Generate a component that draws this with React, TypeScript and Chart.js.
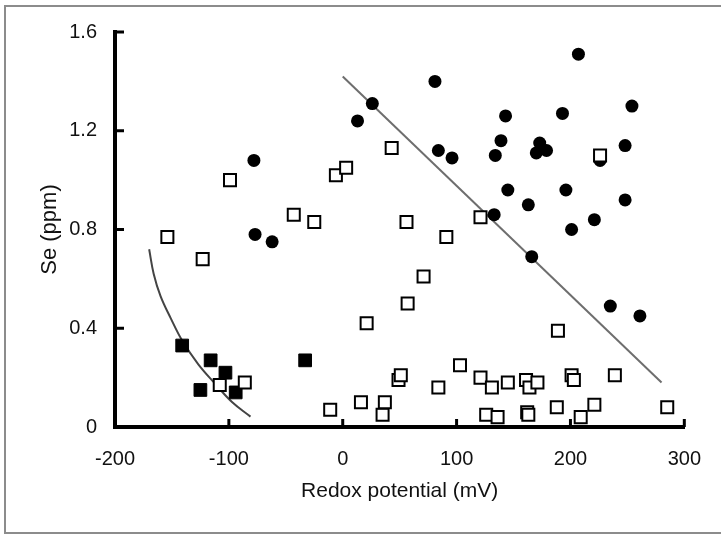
import React, { useEffect, useRef } from 'react';
import { Chart, registerables } from 'chart.js';

Chart.register(...registerables);

// Filled circles
const circleX = [-78, -77, -62, 13, 26, 81, 84, 96, 133, 134, 139, 143, 145, 163, 166, 170, 173, 179, 193, 196, 201, 207, 221, 226, 235, 248, 248, 254, 261];
const circleY = [1.08, 0.78, 0.75, 1.24, 1.31, 1.40, 1.12, 1.09, 0.86, 1.10, 1.16, 1.26, 0.96, 0.90, 0.69, 1.11, 1.15, 1.12, 1.27, 0.96, 0.80, 1.51, 0.84, 1.08, 0.49, 1.14, 0.92, 1.30, 0.45];

// Open squares
const openX = [-154, -123, -108, -86, -99, -43, -25, -11, -6, 3, 16, 21, 35, 37, 43, 49, 51, 56, 57, 71, 84, 91, 103, 121, 121, 126, 131, 136, 145, 161, 162, 163, 164, 171, 188, 189, 201, 203, 209, 221, 226, 239, 285];
const openY = [0.77, 0.68, 0.17, 0.18, 1.00, 0.86, 0.83, 0.07, 1.02, 1.05, 0.10, 0.42, 0.05, 0.10, 1.13, 0.19, 0.21, 0.83, 0.50, 0.61, 0.16, 0.77, 0.25, 0.20, 0.85, 0.05, 0.16, 0.04, 0.18, 0.19, 0.06, 0.05, 0.16, 0.18, 0.08, 0.39, 0.21, 0.19, 0.04, 0.09, 1.10, 0.21, 0.08];

// Filled squares
const filledSqX = [-141, -116, -103, -125, -94, -33];
const filledSqY = [0.33, 0.27, 0.22, 0.15, 0.14, 0.27];

// Straight regression line
const lineX = [0, 280];
const lineY = [1.42, 0.18];

// Curved fit
const curveX = [-170, -166, -160, -151, -141, -127, -112, -97, -81];
const curveY = [0.72, 0.62, 0.53, 0.44, 0.35, 0.255, 0.175, 0.1, 0.042];

const xTicks = [-200, -100, 0, 100, 200, 300];
const xTickLabels = ['-200', '-100', '0', '100', '200', '300'];
const yTicks = [0, 0.4, 0.8, 1.2, 1.6];
const yTickLabels = ['0', '0.4', '0.8', '1.2', '1.6'];

const xTitle = 'Redox potential (mV)';
const yTitle = 'Se (ppm)';

const pts = (xs: number[], ys: number[]) => xs.map((x, i) => ({ x, y: ys[i] }));

const FONT = '"Liberation Sans", Arial, sans-serif';

const framePlugin = {
  id: 'frame',
  beforeDraw(chart: any) {
    const ctx = chart.ctx;
    ctx.save();
    ctx.fillStyle = '#ffffff';
    ctx.fillRect(0, 0, chart.width, chart.height);
    ctx.strokeStyle = '#8c8c8c';
    ctx.lineWidth = 2;
    ctx.strokeRect(5, 6, 720, 527);
    ctx.restore();
  },
  beforeDatasetsDraw(chart: any) {
    const ctx = chart.ctx;
    const xs = chart.scales.x;
    const ys = chart.scales.y;
    const area = chart.chartArea;
    ctx.save();
    ctx.strokeStyle = '#000';
    ctx.lineWidth = 3;
    xTicks.forEach((v) => {
      const px = xs.getPixelForValue(v);
      ctx.beginPath();
      ctx.moveTo(px, area.bottom);
      ctx.lineTo(px, area.bottom - 8);
      ctx.stroke();
    });
    yTicks.forEach((v) => {
      const py = ys.getPixelForValue(v);
      ctx.beginPath();
      ctx.moveTo(area.left, py);
      ctx.lineTo(area.left + 9, py);
      ctx.stroke();
    });
    ctx.restore();
  },
};

export default function App() {
  const ref = useRef<HTMLCanvasElement | null>(null);
  useEffect(() => {
    document.body.style.margin = '0';
    const canvas = ref.current!;
    const chart = new Chart(canvas, {
      type: 'scatter',
      data: {
        datasets: [
          {
            label: 'open',
            data: pts(openX, openY),
            pointStyle: 'rect',
            pointRadius: 8.5,
            pointBorderWidth: 2,
            pointBorderColor: '#000',
            pointBackgroundColor: '#fff',
            order: 1,
          },
          {
            label: 'filledSq',
            data: pts(filledSqX, filledSqY),
            pointStyle: 'rect',
            pointRadius: 9,
            pointBorderWidth: 1,
            pointBorderColor: '#000',
            pointBackgroundColor: '#000',
            order: 2,
          },
          {
            label: 'circle',
            data: pts(circleX, circleY),
            pointStyle: 'circle',
            pointRadius: 6.5,
            pointBorderWidth: 0,
            pointBackgroundColor: '#000',
            order: 3,
          },
          {
            type: 'line',
            label: 'line',
            data: pts(lineX, lineY),
            showLine: true,
            borderColor: '#6e6e6e',
            borderWidth: 2,
            pointRadius: 0,
            order: 4,
          },
          {
            type: 'line',
            label: 'curve',
            data: pts(curveX, curveY),
            showLine: true,
            borderColor: '#444',
            borderWidth: 2,
            pointRadius: 0,
            tension: 0.4,
            order: 5,
          },
        ],
      } as any,
      options: {
        responsive: false,
        animation: false,
        devicePixelRatio: 1,
        layout: { padding: { left: 0, right: 28, top: 32, bottom: 0 } },
        plugins: { legend: { display: false }, tooltip: { enabled: false } },
        scales: {
          x: {
            type: 'linear',
            min: -200,
            max: 300,
            afterBuildTicks: (s: any) => { s.ticks = xTicks.map((v) => ({ value: v })); },
            afterFit: (s: any) => { s.height = 109; },
            grid: { display: false, drawTicks: false },
            border: { display: true, color: '#000', width: 4 },
            ticks: {
              padding: 20,
              color: '#111',
              font: { family: FONT, size: 20 },
              callback: (v: any) => xTickLabels[xTicks.indexOf(Number(v))] ?? '',
            },
            title: {
              display: true,
              text: xTitle,
              color: '#111',
              font: { family: FONT, size: 21 },
              padding: { top: 0, bottom: 32 },
            },
          },
          y: {
            type: 'linear',
            min: 0,
            max: 1.6,
            afterBuildTicks: (s: any) => { s.ticks = yTicks.map((v) => ({ value: v })); },
            afterFit: (s: any) => { s.width = 115; },
            grid: { display: false, drawTicks: false },
            border: { display: true, color: '#000', width: 4 },
            ticks: {
              padding: 18,
              color: '#111',
              font: { family: FONT, size: 20 },
              callback: (v: any) => {
                const i = yTicks.findIndex((t) => Math.abs(t - Number(v)) < 1e-9);
                return i >= 0 ? yTickLabels[i] : '';
              },
            },
            title: {
              display: true,
              text: yTitle,
              color: '#111',
              font: { family: FONT, size: 22 },
              padding: { top: 37, bottom: 0 },
            },
          },
        },
      } as any,
      plugins: [framePlugin],
    });
    return () => chart.destroy();
  }, []);
  return <canvas ref={ref} width={721} height={536} style={{ display: 'block' }} />;
}
